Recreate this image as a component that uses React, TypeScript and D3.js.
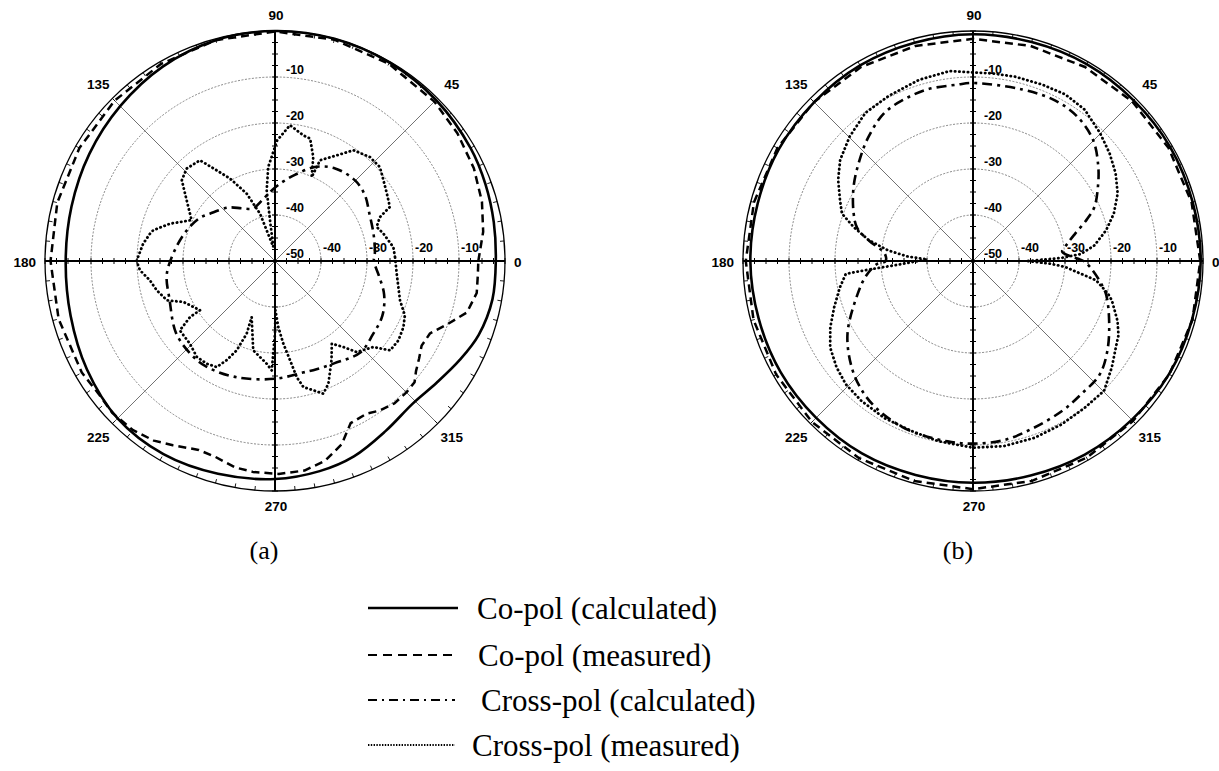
import React, { useEffect, useRef } from "react";
import * as d3 from "d3";

type P = [number, number]; // [angle in degrees, level in dB]

// ---------- data ----------
const angleLabels = [0, 45, 90, 135, 180, 225, 270, 315];
const ringLevels = [-10, -20, -30, -40];
const radialLabels = [-50, -40, -30, -20, -10];
const dbRange: [number, number] = [-50, 0];

// (a) Co-pol (calculated)
const aCoCalc: P[] = [
  [0, -2.0], [10, -1.7], [20, -1.3], [30, -0.9], [45, -0.5], [60, -0.2], [75, 0], [90, 0],
  [105, -0.3], [120, -1.2], [135, -2.4], [150, -3.4], [165, -4.2], [180, -4.5], [195, -4.0],
  [210, -2.8], [225, -1.6], [240, -1.5], [255, -2.1], [270, -2.6], [282, -3.3], [292, -4.2],
  [303, -5.9], [314, -6.9], [323, -6.0], [332, -4.4], [340, -2.9], [350, -2.0],
];
// (a) Co-pol (measured)
const aCoMeas: P[] = [
  [0, -5.8], [8, -4.3], [16, -3.2], [25, -2.3], [35, -1.6], [45, -1.0], [60, -0.5], [75, -0.2],
  [90, -0.1], [105, -0.3], [120, -0.5], [135, -0.7], [150, -0.9], [165, -1.0], [180, -1.2],
  [195, -1.3], [210, -1.5], [217, -2.0], [223, -1.6], [230, -2.0], [236, -2.9], [241, -4.2],
  [248, -5.7], [253, -5.5], [259, -4.3], [264, -3.9], [271, -3.7], [278, -4.0], [284, -5.2],
  [290, -7.6], [295, -11.1], [301, -11.3], [305, -10.3], [310, -9.6], [315, -9.6], [319, -9.8],
  [322, -11.1], [326, -12.2], [330, -13.2], [335, -12.8], [340, -10.0], [345, -6.8], [351, -5.6],
  [356, -5.8],
];
// (a) Cross-pol (calculated)
const aXCalc: P[] = [
  [0, -28.5], [5, -28.2], [15, -27.8], [27, -27], [36, -25.8], [45, -25.3], [57, -26.0],
  [67, -27.8], [77, -30.8], [84, -32.6], [92, -34.5], [102, -36.5], [113, -37.6], [122, -36.5],
  [131, -34.6], [144, -32.5], [150, -31.2], [160, -29.8], [173, -28.2], [187, -26.3],
  [200, -25.6], [216, -23.4], [228, -22.7], [237, -22.6], [252, -23.4], [270, -24.4],
  [284, -25.0], [291, -24.8], [300, -24.3], [313, -22.8], [323, -23.4], [333, -23.8],
  [343, -25.2], [352, -27.2],
];
// (a) Cross-pol (measured)
const aXMeas: P[] = [
  [1.9, -23.9], [6.7, -24.1], [14.2, -25.7], [18.5, -26.7], [22.7, -25.3], [25.2, -22.4],
  [31.1, -21.6], [36.7, -20.6], [41.8, -19.4], [47.6, -19.4], [54.7, -20.5], [59.7, -23.4],
  [65.9, -26], [66.4, -30.1], [69.8, -25.9], [74, -22.3], [77.3, -22], [83.7, -20.3],
  [89, -23.8], [94.1, -29.5], [96.7, -34.5], [97, -41.1], [97, -46.9], [107.6, -39.2],
  [112.8, -34.1], [118.6, -29.6], [122.7, -26.6], [126.7, -22.7], [133.7, -22.2],
  [139.1, -23.2], [145.5, -26.7], [153.9, -29.8], [160.4, -25.8], [165.8, -22.7],
  [167.6, -22.2], [172.5, -21.1], [180, -19.9], [184, -20.6], [188.8, -22.5], [193.9, -23.5],
  [200, -25], [204.1, -28.2], [213.3, -30.5], [213.4, -27.9], [216.1, -24.4], [224.2, -24.2],
  [230.8, -23.1], [236.4, -23.2], [241.2, -23.7], [244, -26], [246.8, -28.9], [248.7, -33.1],
  [247.4, -36.8], [256.3, -30], [265.4, -27.6], [268.3, -26.2], [270, -34.2], [270.5, -39.3],
  [272.9, -35.6], [275.7, -32], [278.6, -28.2], [280.6, -24.3], [282.7, -21.9], [286.5, -20.7],
  [290, -19.3], [293.5, -20.9], [299.7, -25.2], [304.5, -28.2], [308.5, -26.1], [311.9, -23.4],
  [318.8, -21.6], [322.2, -18.3], [327.3, -18.1], [332.8, -18.6], [337.3, -19.4],
  [342.5, -21.5], [348.1, -22.6], [354.1, -23.4],
];

// (b) Co-pol (calculated)
const bCoCalc: P[] = [
  [0, -0.5], [30, -0.5], [60, -0.6], [90, -0.7], [120, -0.9], [150, -1.3], [180, -1.6],
  [210, -1.7], [240, -1.7], [270, -1.8], [300, -1.4], [330, -0.8],
];
// (b) Co-pol (measured)
const bCoMeas: P[] = [
  [0, -0.6], [15, -0.8], [30, -0.9], [45, -1.0], [60, -1.3], [75, -1.6], [90, -1.7],
  [105, -1.6], [120, -1.3], [135, -1.1], [150, -0.9], [165, -0.7], [180, -0.6], [195, -0.6],
  [210, -0.6], [225, -0.5], [240, -0.5], [255, -0.5], [270, -0.4], [285, -0.5], [300, -0.6],
  [315, -0.8], [330, -0.7], [345, -0.6],
];
// (b) Cross-pol (calculated)
const bXCalc: P[] = [
  [0, -26], [3, -29], [6, -30.5], [10.5, -29.1], [15, -27], [20, -23.7], [24, -21.1],
  [31, -18.3], [37, -15.9], [45, -13], [54, -11.3], [63, -10.8], [74, -11.2], [90, -11.3],
  [95, -11.5], [105, -11.4], [113, -11.8], [121, -12.5], [130, -14.7], [138, -16.9],
  [148, -19.4], [158, -22], [164, -23.8], [169, -27], [175, -30.7], [180, -31], [182, -29],
  [188, -26.5], [196, -23.9], [210, -18.5], [221, -15], [229, -13], [236, -11.8], [244, -11.0],
  [251, -10.6], [262, -10.4], [270, -10.3], [280, -10.5], [290, -11.4], [301, -12.1],
  [309, -12.7], [318, -13], [326, -14.8], [336, -17.6], [346, -20.2], [351, -22.1],
  [357, -24.5],
];
// (b) Cross-pol (measured)
const bXMeas: P[] = [
  [0, -38], [2, -30.7], [3.7, -26.5], [7.3, -23.4], [13, -20.3], [18.6, -17.7], [25, -15.3],
  [31.6, -13.6], [38.2, -12.2], [45.2, -10.8], [53.6, -9.1], [61, -8.6], [68.5, -8.8],
  [77, -8.9], [84, -9.0], [90, -9.0], [97, -8.4], [106.5, -8.9], [117, -9.7], [126, -10.2],
  [134.7, -11.9], [142.7, -13.7], [149, -15.8], [155.4, -18.2], [160.1, -19.7], [164.1, -23],
  [168.7, -26.9], [172.9, -31.4], [176, -35.7], [178, -40], [183, -33.2], [184.9, -26.4],
  [185.8, -22.2], [191.2, -20.5], [198.4, -18.2], [204.9, -15.8], [211.2, -13.7],
  [217.9, -12.4], [224.1, -11.5], [231.4, -11.1], [240.5, -10.8], [250.1, -10.7],
  [259.2, -10.1], [270, -9.4], [279.5, -9.2], [289.2, -9.3], [298.5, -9.6], [307.3, -9.9],
  [315.3, -9.9], [322.6, -12], [328.8, -13.7], [333, -14.5], [337.5, -16], [344.1, -18.6],
  [346.4, -19.8], [351.1, -22.9], [353.2, -26.3], [356.3, -29.9], [358, -33.2],
];

const legendLabels = [
  "Co-pol (calculated)",
  "Co-pol (measured)",
  "Cross-pol (calculated)",
  "Cross-pol (measured)",
];
const panelLabels = ["(a)", "(b)"];

// ---------- styles ----------
const seriesStyles = [
  { width: 2.6, dash: null as string | null, cap: "butt" },
  { width: 2.5, dash: "8,5", cap: "butt" },
  { width: 2.6, dash: "10,5,3,5", cap: "butt" },
  { width: 2.8, dash: "0.3,4.0", cap: "round" },
];
const smoothFlags = [true, false, true, false];

const W = 1219;
const H = 771;

const panels = [
  { cx: 275, cy: 261, rx: 230, ry: 230, series: [aCoCalc, aCoMeas, aXCalc, aXMeas], labelX: 264, labelY: 550 },
  { cx: 973, cy: 261, rx: 230, ry: 230, series: [bCoCalc, bCoMeas, bXCalc, bXMeas], labelX: 958, labelY: 550 },
];

const SANS = "'Liberation Sans', Arial, sans-serif";
const SERIF = "'Liberation Serif', 'Times New Roman', serif";

export default function App() {
  const ref = useRef<SVGSVGElement | null>(null);

  useEffect(() => {
    const svg = d3.select(ref.current);
    svg.selectAll("*").remove();
    const rad = (d: number) => (d * Math.PI) / 180;

    panels.forEach((p, pi) => {
      const g = svg.append("g");
      const sx = d3.scaleLinear().domain(dbRange).range([0, p.rx]).clamp(true);
      const sy = d3.scaleLinear().domain(dbRange).range([0, p.ry]).clamp(true);
      const px = (a: number, db: number) => p.cx + sx(db) * Math.cos(rad(a));
      const py = (a: number, db: number) => p.cy - sy(db) * Math.sin(rad(a));

      // grid rings
      g.selectAll("ellipse.ring")
        .data(ringLevels)
        .join("ellipse")
        .attr("cx", p.cx)
        .attr("cy", p.cy)
        .attr("rx", (d) => sx(d))
        .attr("ry", (d) => sy(d))
        .attr("fill", "none")
        .attr("stroke", "#555")
        .attr("stroke-width", 0.7)
        .attr("stroke-dasharray", "2,1.5");

      // diagonal spokes
      g.selectAll("line.spoke")
        .data([45, 135, 225, 315])
        .join("line")
        .attr("x1", p.cx)
        .attr("y1", p.cy)
        .attr("x2", (a) => px(a, 0))
        .attr("y2", (a) => py(a, 0))
        .attr("stroke", "#333")
        .attr("stroke-width", 0.7);

      // outer boundary
      g.append("ellipse")
        .attr("cx", p.cx)
        .attr("cy", p.cy)
        .attr("rx", p.rx)
        .attr("ry", p.ry)
        .attr("fill", "none")
        .attr("stroke", "#000")
        .attr("stroke-width", 1.3);

      // outer ticks every 5 degrees (inward)
      const outerTicks = d3.range(0, 360, 5);
      g.selectAll("line.otick")
        .data(outerTicks)
        .join("line")
        .attr("x1", (a) => px(a, 0))
        .attr("y1", (a) => py(a, 0))
        .attr("x2", (a) => px(a, -0.9))
        .attr("y2", (a) => py(a, -0.9))
        .attr("stroke", "#000")
        .attr("stroke-width", 0.9);

      // series
      p.series.forEach((data, si) => {
        const st = seriesStyles[si];
        const line = d3
          .line<P>()
          .x((d) => px(d[0], d[1]))
          .y((d) => py(d[0], d[1]))
          .curve(smoothFlags[si] ? d3.curveCatmullRomClosed.alpha(0.5) : d3.curveLinearClosed);
        const path = g
          .append("path")
          .attr("d", line(data) as string)
          .attr("fill", "none")
          .attr("stroke", "#000")
          .attr("stroke-width", st.width)
          .attr("stroke-linecap", st.cap)
          .attr("stroke-linejoin", "round");
        if (st.dash) path.attr("stroke-dasharray", st.dash);
      });

      // main axes
      g.append("line")
        .attr("x1", px(180, 0)).attr("y1", p.cy)
        .attr("x2", px(0, 0)).attr("y2", p.cy)
        .attr("stroke", "#000").attr("stroke-width", 2);
      g.append("line")
        .attr("x1", p.cx).attr("y1", py(90, 0))
        .attr("x2", p.cx).attr("y2", py(270, 0))
        .attr("stroke", "#000").attr("stroke-width", 2);

      // axis ticks every 2.5 dB
      const axTicks = d3.range(-47.5, 0.01, 2.5);
      [0, 180].forEach((a) => {
        g.selectAll(null)
          .data(axTicks)
          .join("line")
          .attr("x1", (d) => px(a, d))
          .attr("x2", (d) => px(a, d))
          .attr("y1", p.cy - 3)
          .attr("y2", p.cy + 3)
          .attr("stroke", "#000")
          .attr("stroke-width", 1);
      });
      [90, 270].forEach((a) => {
        g.selectAll(null)
          .data(axTicks)
          .join("line")
          .attr("y1", (d) => py(a, d))
          .attr("y2", (d) => py(a, d))
          .attr("x1", p.cx - 3)
          .attr("x2", p.cx + 3)
          .attr("stroke", "#000")
          .attr("stroke-width", 1);
      });

      // angle labels
      g.selectAll("text.ang")
        .data(angleLabels)
        .join("text")
        .attr("x", (a) => {
          if (a === 0) return px(0, 0) + 9;
          if (a === 180) return px(180, 0) - 9;
          if (a === 90 || a === 270) return p.cx + 1;
          return p.cx + (p.rx + 20) * Math.cos(rad(a));
        })
        .attr("y", (a) => {
          if (a === 90) return py(90, 0) - 16;
          if (a === 270) return py(270, 0) + 15;
          if (a === 0 || a === 180) return p.cy + 1;
          return p.cy - (p.ry + 20) * Math.sin(rad(a));
        })
        .attr("text-anchor", (a) => (a === 0 ? "start" : a === 180 ? "end" : "middle"))
        .attr("dominant-baseline", "central")
        .attr("font-family", SANS)
        .attr("font-weight", "bold")
        .attr("font-size", 13.5)
        .text((a) => String(a));

      // radial labels along vertical axis
      g.selectAll("text.rv")
        .data(radialLabels)
        .join("text")
        .attr("x", p.cx + 11)
        .attr("y", (d) => py(90, d) - 7)
        .attr("dominant-baseline", "central")
        .attr("font-family", SANS)
        .attr("font-weight", "bold")
        .attr("font-size", 12.5)
        .text((d) => String(d));
      // radial labels along horizontal axis
      g.selectAll("text.rh")
        .data(radialLabels.filter((d) => d !== -50))
        .join("text")
        .attr("x", (d) => px(0, d) + 2)
        .attr("y", p.cy - 13)
        .attr("dominant-baseline", "central")
        .attr("font-family", SANS)
        .attr("font-weight", "bold")
        .attr("font-size", 12.5)
        .text((d) => String(d));

      // panel label
      svg.append("text")
        .attr("x", p.labelX)
        .attr("y", p.labelY)
        .attr("text-anchor", "middle")
        .attr("dominant-baseline", "central")
        .attr("font-family", SERIF)
        .attr("font-size", 26)
        .text(panelLabels[pi]);
    });

    // legend
    const legY = [608, 655, 700, 745];
    const legTextX = [477, 478, 481, 472];
    const legLineEnd = [458, 458, 455, 455];
    const legDash = [null, "9,6", "9,5,2,5", "1.4,1.4"];
    const legWidth = [2.4, 2.2, 1.9, 2];
    legendLabels.forEach((lab, i) => {
      const l = svg
        .append("line")
        .attr("x1", 368)
        .attr("x2", legLineEnd[i])
        .attr("y1", legY[i])
        .attr("y2", legY[i])
        .attr("stroke", "#000")
        .attr("stroke-width", legWidth[i]);
      if (legDash[i]) l.attr("stroke-dasharray", legDash[i] as string);
      svg
        .append("text")
        .attr("x", legTextX[i])
        .attr("y", legY[i])
        .attr("dominant-baseline", "central")
        .attr("font-family", SERIF)
        .attr("font-size", 31)
        .text(lab);
    });
  }, []);

  return (
    <svg
      ref={ref}
      width={W}
      height={H}
      viewBox={`0 0 ${W} ${H}`}
      style={{ position: "absolute", left: 0, top: 0, background: "#fff" }}
    />
  );
}
